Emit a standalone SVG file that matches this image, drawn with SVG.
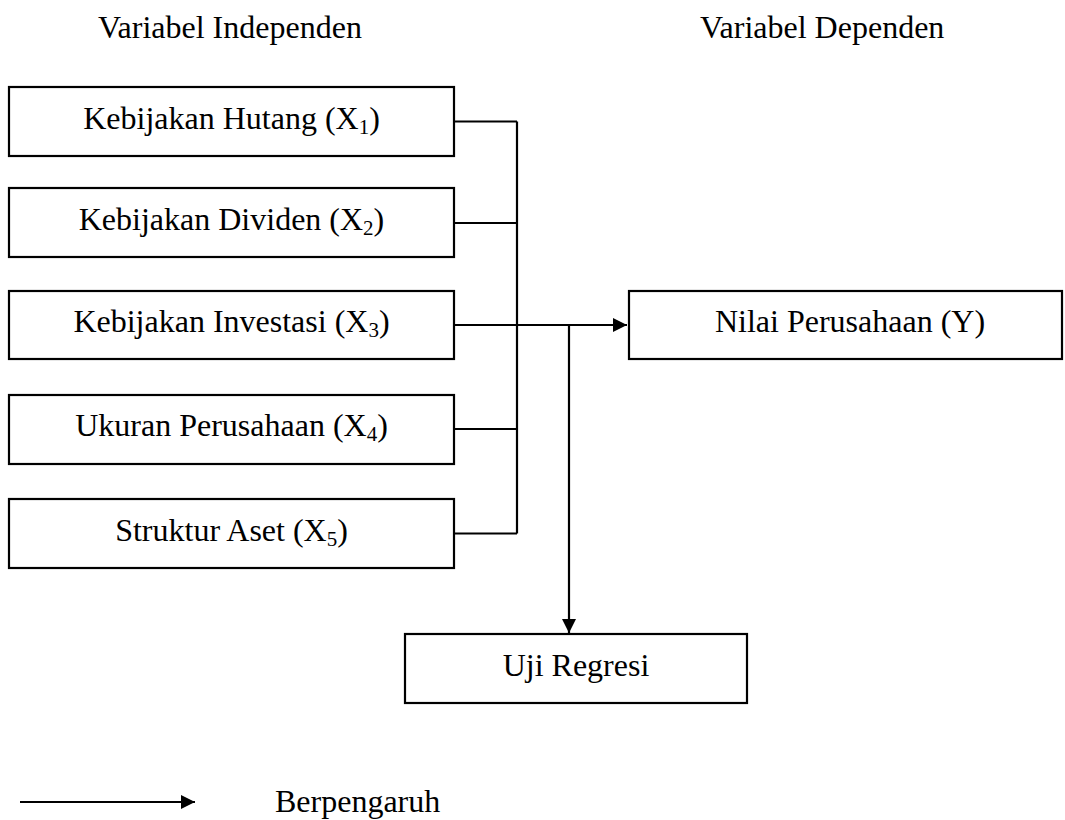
<svg xmlns="http://www.w3.org/2000/svg" width="1065" height="820" viewBox="0 0 1065 820">
<style>
  text { font-family: "Liberation Serif", "Times New Roman", serif; font-size: 32px; fill: #000; }
  .c { text-anchor: middle; }
  .box { fill: #fff; stroke: #000; stroke-width: 2.2; }
  .ln { fill: none; stroke: #000; stroke-width: 2.2; }
  .sub { font-size: 21px; }
</style>
<defs>
  <marker id="arr" markerWidth="16" markerHeight="16" refX="14" refY="7" orient="auto" markerUnits="userSpaceOnUse">
    <path d="M0,0 L14,7 L0,14 Z" fill="#000"/>
  </marker>
</defs>
<rect width="1065" height="820" fill="#fff"/>
<text x="98" y="38">Variabel Independen</text>
<text x="700" y="38">Variabel Dependen</text>

<g id="x1">
  <rect class="box" x="9" y="87" width="445" height="69"/>
  <text class="c" x="231.5" y="128.5">Kebijakan Hutang (X<tspan class="sub" dy="5">1</tspan><tspan dy="-5">)</tspan></text>
</g>
<g id="x2">
  <rect class="box" x="9" y="188" width="445" height="69"/>
  <text class="c" x="231.5" y="230">Kebijakan Dividen (X<tspan class="sub" dy="5">2</tspan><tspan dy="-5">)</tspan></text>
</g>
<g id="x3">
  <rect class="box" x="9" y="291" width="445" height="68"/>
  <text class="c" x="231.5" y="332">Kebijakan Investasi (X<tspan class="sub" dy="5">3</tspan><tspan dy="-5">)</tspan></text>
</g>
<g id="x4">
  <rect class="box" x="9" y="395" width="445" height="69"/>
  <text class="c" x="231.5" y="436">Ukuran Perusahaan (X<tspan class="sub" dy="5">4</tspan><tspan dy="-5">)</tspan></text>
</g>
<g id="x5">
  <rect class="box" x="9" y="499" width="445" height="69"/>
  <text class="c" x="231.5" y="540.5">Struktur Aset (X<tspan class="sub" dy="5">5</tspan><tspan dy="-5">)</tspan></text>
</g>
<g id="y">
  <rect class="box" x="629" y="291" width="433" height="68"/>
  <text class="c" x="850" y="332">Nilai Perusahaan (Y)</text>
</g>
<g id="uji">
  <rect class="box" x="405" y="634" width="342" height="69"/>
  <text class="c" x="576" y="675.5">Uji Regresi</text>
</g>

<g id="connectors">
  <polyline class="ln" points="454,121.5 517,121.5"/>
  <polyline class="ln" points="454,223 517,223"/>
  <polyline class="ln" points="454,429 517,429"/>
  <polyline class="ln" points="454,533.5 517,533.5"/>
  <line class="ln" x1="517" y1="121.5" x2="517" y2="533.5"/>
  <line class="ln" x1="454" y1="325" x2="627" y2="325" marker-end="url(#arr)"/>
  <line class="ln" x1="569" y1="325" x2="569" y2="633" marker-end="url(#arr)"/>
</g>

<g id="legend">
  <line class="ln" x1="20" y1="802" x2="195" y2="802" marker-end="url(#arr)"/>
  <text x="275" y="812">Berpengaruh</text>
</g>
</svg>
